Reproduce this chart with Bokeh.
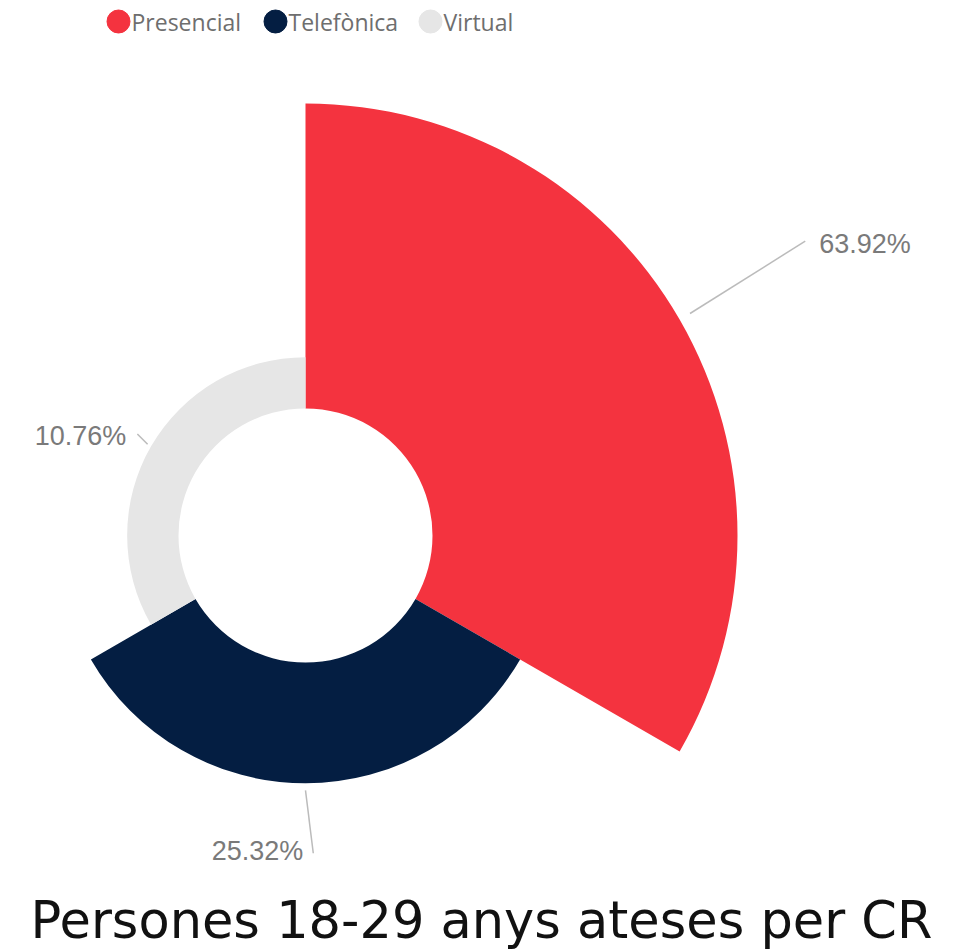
import math
from bokeh.plotting import figure
from bokeh.models import Range1d, ColumnDataSource
from bokeh.core.properties import value
from bokeh.embed import file_html
from bokeh.resources import INLINE

# ---- data ----
categories = ["Presencial", "Telefònica", "Virtual"]
values = [63.92, 25.32, 10.76]
labels = ["63.92%", "25.32%", "10.76%"]
colors = ["#F4333F", "#041E42", "#E6E6E6"]
title_text = "Persones 18-29 anys ateses per CR"

# ---- layout ----
W, H = 954, 951
cx, cy = 305, 416
r_in, r_out = 127, 432
line_gap = [12, 7, 4]
line_len = [148, 70, 18]
end_ang_off = [0.5, 1.4, -1.1]   # degrees
text_dx = [14, -10, -11]
text_dy = [-3, 2, -2]
text_align = ["left", "right", "right"]

p = figure(width=W, height=H, x_range=Range1d(0, W), y_range=Range1d(0, H),
           output_backend="svg", toolbar_location=None, min_border=0)
p.axis.visible = False
p.grid.visible = False
p.outline_line_color = None

n = len(values)
sector = 2 * math.pi / n
vmax = max(values)
starts, ends, outers = [], [], []
for i, v in enumerate(values):
    ts, te = i * sector, (i + 1) * sector
    starts.append(math.pi / 2 - te)
    ends.append(math.pi / 2 - ts)
    outers.append(r_in + (v / vmax) * (r_out - r_in))

src = ColumnDataSource(dict(x=[cx] * n, y=[cy] * n, s=starts, e=ends,
                            ro=outers, c=colors))
p.annular_wedge(x="x", y="y", inner_radius=r_in, outer_radius="ro",
                start_angle="s", end_angle="e", fill_color="c",
                line_color=None, source=src)

# label lines and texts
for i in range(n):
    phi = math.pi / 2 - (i + 0.5) * sector
    r1 = outers[i] + line_gap[i]
    r2 = outers[i] + line_len[i]
    phi2 = phi + math.radians(end_ang_off[i])
    x1, y1 = cx + r1 * math.cos(phi), cy + r1 * math.sin(phi)
    x2, y2 = cx + r2 * math.cos(phi2), cy + r2 * math.sin(phi2)
    p.line([x1, x2], [y1, y2], line_color="#BBBBBB", line_width=1.5)
    p.text(x=[x2 + text_dx[i]], y=[y2 + text_dy[i]], text=[labels[i]],
           text_align=text_align[i], text_baseline="middle",
           text_font=value("Liberation Sans"), text_font_size="27px",
           text_color="#7A7A7A")

# legend
leg_x = [118, 275, 430]
leg_y = 930
p.scatter(x=leg_x, y=[leg_y] * n, size=23, color=colors, marker="circle")
p.text(x=[lx + 13 for lx in leg_x], y=[leg_y] * n, text=categories,
       text_baseline="middle", text_font=value("Open Sans"),
       text_font_size="23px", text_color="#6E6E6E")

# title
p.text(x=[481], y=[2], text=[title_text], text_align="center",
       text_baseline="bottom", text_font=value("DejaVu Sans"),
       text_font_size="51px", text_color="#111111")

open("out.html", "w").write(file_html(p, INLINE))
